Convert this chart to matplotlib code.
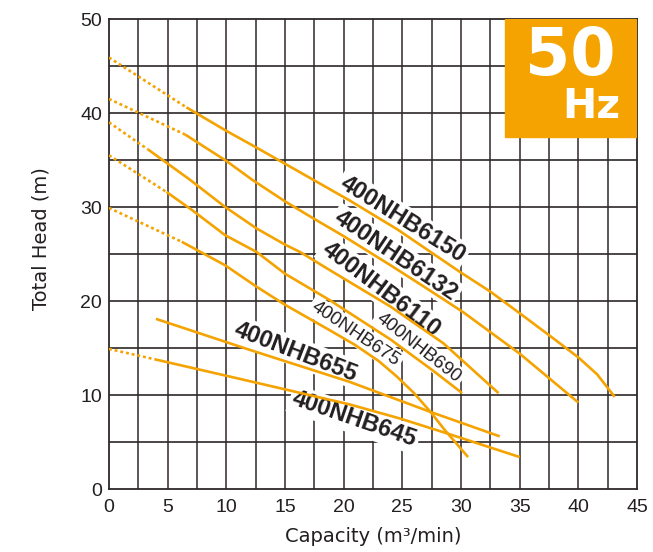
import numpy as np
import matplotlib.pyplot as plt
from matplotlib.patches import Rectangle

orange = '#F5A300'
grid_dark = '#2e2828'
grid_grey = '#4e4848'
text_col = '#231f20'

# pump curves, capacity (m3/min) vs total head (m)
# dotted part = extrapolated region near shut-off
q_6150_dot = [0, 6.6]
h_6150_dot = [45.9, 40.6]
q_6150 = [6.6, 10, 12.6, 15, 17.4, 20.5, 24.6, 29.9, 32.5, 35, 38, 40, 41.6, 43.1]
h_6150 = [40.6, 38.1, 36.3, 34.6, 32.9, 30.7, 27.6, 23.1, 21.0, 18.7, 15.9, 14.0, 12.2, 9.8]

q_6132_dot = [0, 6.5]
h_6132_dot = [41.5, 37.7]
q_6132 = [6.5, 10, 12.2, 15, 17.4, 20, 24, 27, 30.2, 35, 40]
h_6132 = [37.7, 34.9, 32.9, 30.6, 28.8, 26.9, 23.8, 21.4, 18.8, 14.4, 9.2]

q_6110_dot = [0, 3.35]
h_6110_dot = [39.0, 36.1]
q_6110 = [3.35, 6.9, 9.9, 12.6, 15, 16.3, 18.8, 24, 28.5, 31.6, 33.2]
h_6110 = [36.1, 32.9, 30.0, 27.7, 26.0, 25.2, 23.3, 19.4, 15.5, 12.0, 10.2]

q_690_dot = [0, 4.9]
h_690_dot = [35.5, 31.6]
q_690 = [4.9, 7.05, 9.9, 12.6, 15, 18.8, 24, 27.5, 30.1]
h_690 = [31.6, 29.7, 27.0, 25.2, 22.9, 20.1, 15.9, 12.7, 10.2]

q_675_dot = [0, 6.2]
h_675_dot = [29.9, 26.3]
q_675 = [6.2, 9.9, 12.6, 15, 18.8, 21, 23, 24.5, 26, 27.4, 28.6, 30.6]
h_675 = [26.3, 23.8, 21.5, 19.6, 16.9, 15.3, 13.6, 12.0, 10.2, 8.2, 6.3, 3.4]

q_655 = [4.0, 12, 20.5, 27.4, 33.3]
h_655 = [18.1, 14.8, 11.4, 8.2, 5.6]

q_645_dot = [0, 3.9]
h_645_dot = [14.9, 13.8]
q_645 = [3.9, 11.2, 15, 20.5, 24.8, 28.6, 35]
h_645 = [13.8, 11.7, 10.6, 9.0, 7.5, 6.0, 3.4]

# curve labels: text, x, y, angle, size
lab_text = ['400NHB6150', '400NHB6132', '400NHB6110', '400NHB690',
            '400NHB675', '400NHB655', '400NHB645']
lab_x = [25.0, 24.4, 23.2, 26.4, 21.0, 15.9, 20.9]
lab_y = [28.7, 24.8, 21.2, 15.0, 16.5, 14.6, 7.4]
lab_rot = [-32, -34, -37, -38, -34, -21, -19]
lab_big = [True, True, True, False, False, True, True]

fig = plt.figure(figsize=(6.53, 5.52), dpi=100)
ax = fig.add_axes([109 / 653, 1 - 489 / 552, 528 / 653, 470 / 552])
ax.set_xlim(0, 45)
ax.set_ylim(0, 50)

for x in np.arange(2.5, 45, 2.5):
    ax.axvline(x, color=grid_grey, lw=1.3, zorder=0)
for y in np.arange(5, 50, 5):
    ax.axhline(y, color=grid_dark, lw=1.2, zorder=0)

dots = (0, (1.1, 1.1))
lw = 1.9
for qd, hd in [(q_6150_dot, h_6150_dot), (q_6132_dot, h_6132_dot),
               (q_6110_dot, h_6110_dot), (q_690_dot, h_690_dot),
               (q_675_dot, h_675_dot), (q_645_dot, h_645_dot)]:
    ax.plot(qd, hd, color=orange, lw=lw, linestyle=dots, zorder=3)
for q, h in [(q_6150, h_6150), (q_6132, h_6132), (q_6110, h_6110),
             (q_690, h_690), (q_675, h_675), (q_655, h_655), (q_645, h_645)]:
    ax.plot(q, h, color=orange, lw=lw, zorder=3, solid_capstyle='butt',
            solid_joinstyle='round')

for s, x, y, r, big in zip(lab_text, lab_x, lab_y, lab_rot, lab_big):
    ax.text(x, y, s, rotation=r, rotation_mode='anchor', ha='center', va='center',
            fontsize=17 if big else 13.5, fontweight='bold' if big else 'normal',
            family='Liberation Sans', color=text_col, zorder=2,
            bbox=dict(facecolor='white', edgecolor='none', pad=2))

# 50 Hz badge
ax.add_patch(Rectangle((33.76, 37.5), 45 - 33.76, 12.5, color='#F4A300', zorder=4))
ax.text(39.3, 46.0, '50', color='white', fontsize=47, fontweight='bold',
        family='DejaVu Sans', ha='center', va='center', zorder=5)
ax.text(41.1, 40.6, 'Hz', color='white', fontsize=29.5, fontweight='bold',
        family='DejaVu Sans', ha='center', va='center', zorder=5)

ax.set_xticks(np.arange(0, 46, 5))
ax.set_yticks(np.arange(0, 51, 10))
ax.tick_params(length=0, labelsize=14, colors=text_col)
ax.tick_params(axis='x', pad=7)
ax.tick_params(axis='y', pad=5)
for lbl in ax.get_xticklabels() + ax.get_yticklabels():
    lbl.set_family('Liberation Sans')
for sp in ax.spines.values():
    sp.set_color(grid_dark)
    sp.set_linewidth(1.3)

ax.set_xlabel('Capacity (m³/min)', fontsize=14, family='DejaVu Sans', color=text_col)
ax.set_ylabel('Total Head (m)', fontsize=14, family='DejaVu Sans', color=text_col)
ax.xaxis.set_label_coords(0.5, -0.08)
ax.yaxis.set_label_coords(-0.11, 0.532)

fig.savefig('out.png', dpi=100)
